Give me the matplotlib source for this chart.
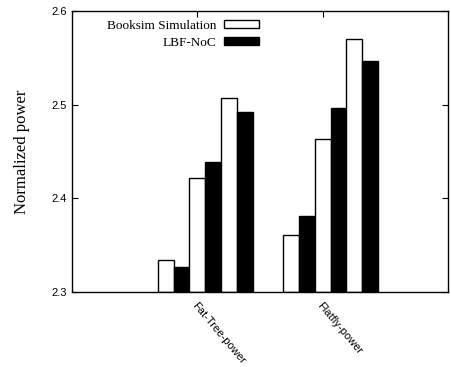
import numpy as np
import matplotlib
matplotlib.use("Agg")
import matplotlib.pyplot as plt

# values (three white/black pairs per group)
groups = ["Fat-Tree-power", "Flatfly-power"]
booksim = [[2.334, 2.422, 2.507], [2.361, 2.463, 2.570]]
lbf_noc = [[2.327, 2.439, 2.492], [2.381, 2.497, 2.547]]
y_ticks = [2.3, 2.4, 2.5, 2.6]

serif = ["Liberation Serif", "DejaVu Serif"]
sans = ["Liberation Sans Narrow", "Liberation Sans", "DejaVu Sans"]

fig = plt.figure(figsize=(4.51, 3.67), dpi=100)
ax = fig.add_axes([0.16, 0.204, 0.833, 0.766])

w = 0.126
xpos = np.arange(1, len(groups) + 1)
for g, x0 in enumerate(xpos):
    for k in range(3):
        left = x0 - 0.315 + 2 * k * w
        ax.bar(left, booksim[g][k] - 2.3, width=w, bottom=2.3, align="edge",
               color="white", edgecolor="black", linewidth=1.0,
               label="Booksim Simulation" if g == 0 and k == 0 else None)
        ax.bar(left + w, lbf_noc[g][k] - 2.3, width=w, bottom=2.3, align="edge",
               color="black", edgecolor="black", linewidth=1.0,
               label="LBF-NoC" if g == 0 and k == 0 else None)

ax.set_xlim(0, 3)
ax.set_ylim(2.3, 2.6)
ax.set_yticks(y_ticks)
ax.set_yticklabels(["%.1f" % v for v in y_ticks], fontfamily=sans, fontsize=8)
ax.set_xticks(xpos)
ax.set_xticklabels(groups, fontfamily=sans, fontsize=8, rotation=-50,
                   ha="left", va="top", rotation_mode="anchor")
ax.tick_params(direction="in", length=4, width=0.8, top=True, right=True, pad=4)
ax.tick_params(axis="x", pad=6)
ax.set_axisbelow(True)
for s in ax.spines.values():
    s.set_linewidth(1.0)

ax.set_ylabel("Normalized power", fontfamily=serif, fontsize=12, labelpad=15)

leg = ax.legend(loc="upper right", bbox_to_anchor=(0.521, 1.0), frameon=False,
                markerfirst=False, prop={"family": serif, "size": 9.5},
                handlelength=2.65, handleheight=0.6, labelspacing=0.4,
                borderpad=0.2, borderaxespad=0.45, handletextpad=0.6)
for t in leg.get_texts():
    t.set_ha("right")

fig.savefig("out.png", dpi=100)
